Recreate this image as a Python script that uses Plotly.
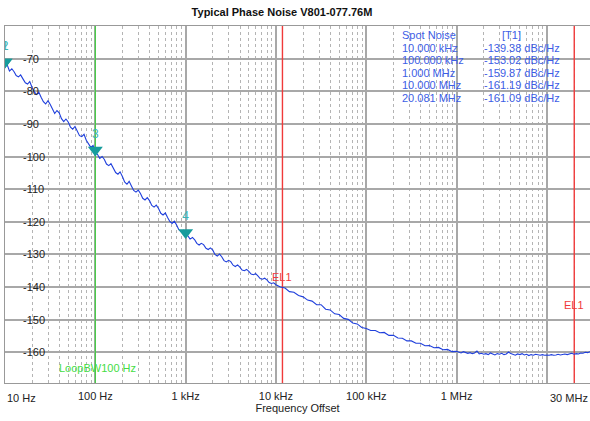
import plotly.graph_objects as go
import math

# ---------------- data ----------------
title_text = "Typical Phase Noise V801-077.76M"
x_title = "Frequency Offset"

freq_hz = [
    # 10 Hz - 100 Hz
    10, 10.6, 11.2, 11.9, 12.6, 13.3, 14.1, 14.9, 15.8, 16.8,
    17.8, 18.8, 20, 21.1, 22.4, 23.7, 25.1, 26.6, 28.2, 29.9,
    31.6, 33.5, 35.5, 37.6, 39.8, 42.2, 44.7, 47.3, 50.1, 53.1,
    56.2, 59.6, 63.1, 66.8, 70.8, 75.0, 79.4, 84.1, 89.1, 94.4,
    # 100 Hz - 1 kHz
    100, 106, 112, 119, 126, 133, 141, 149, 158, 168,
    178, 188, 200, 211, 224, 237, 251, 266, 282, 299,
    316, 335, 355, 376, 398, 422, 447, 473, 501, 531,
    562, 596, 631, 668, 708, 750, 794, 841, 891, 944,
    # 1 kHz - 10 kHz
    1000, 1060, 1120, 1190, 1260, 1330, 1410, 1490, 1580, 1680,
    1780, 1880, 2000, 2110, 2240, 2370, 2510, 2660, 2820, 2990,
    3160, 3350, 3550, 3760, 3980, 4220, 4470, 4730, 5010, 5310,
    5620, 5960, 6310, 6680, 7080, 7500, 7940, 8410, 8910, 9440,
    # 10 kHz - 100 kHz
    10000, 11200, 12600, 14100, 15800, 17800, 20000, 22400, 25100, 28200,
    31600, 35500, 39800, 44700, 50100, 56200, 63100, 70800, 79400, 89100,
    # 100 kHz - 1 MHz
    100000, 112000, 126000, 141000, 158000, 178000, 200000, 224000, 251000, 282000,
    316000, 355000, 398000, 447000, 501000, 562000, 631000, 708000, 794000, 891000,
    # 1 MHz - 10 MHz
    1.0e6, 1.06e6, 1.12e6, 1.19e6, 1.26e6, 1.33e6, 1.41e6, 1.49e6, 1.58e6, 1.68e6,
    1.78e6, 1.88e6, 2.0e6, 2.11e6, 2.24e6, 2.37e6, 2.51e6, 2.66e6, 2.82e6, 2.99e6,
    3.16e6, 3.35e6, 3.55e6, 3.76e6, 3.98e6, 4.22e6, 4.47e6, 4.73e6, 5.01e6, 5.31e6,
    5.62e6, 5.96e6, 6.31e6, 6.68e6, 7.08e6, 7.5e6, 7.94e6, 8.41e6, 8.91e6, 9.44e6,
    # 10 MHz - 30 MHz
    1.0e7, 1.06e7, 1.12e7, 1.19e7, 1.26e7, 1.33e7, 1.41e7, 1.49e7, 1.58e7, 1.68e7,
    1.78e7, 1.88e7, 2.0e7, 2.11e7, 2.24e7, 2.37e7, 2.51e7, 2.66e7, 2.82e7, 3.0e7,
]
noise_dbc = [
    -71.6, -72.0, -73.8, -73.1, -74.0, -75.2, -75.6, -75.0, -76.2, -77.4,
    -77.8, -77.0, -78.9, -80.2, -81.0, -80.3, -81.8, -83.2, -83.9, -82.9,
    -84.0, -85.6, -86.8, -85.9, -86.6, -88.4, -89.3, -88.5, -89.4, -91.0,
    -91.6, -90.8, -92.2, -93.6, -93.9, -93.2, -95.0, -96.3, -97.2, -96.6,
    -98.7, -99.4, -100.6, -100.0, -100.9, -102.3, -102.8, -102.2, -103.4, -104.9,
    -105.4, -104.7, -106.2, -107.8, -108.5, -107.6, -109.0, -110.4, -110.9, -110.3,
    -111.3, -112.8, -113.3, -112.6, -113.5, -115.0, -115.5, -114.9, -115.9, -117.4,
    -117.9, -117.3, -118.7, -119.9, -120.5, -119.8, -121.0, -122.4, -123.0, -122.6,
    -124.0, -124.3, -125.3, -124.8, -125.5, -126.6, -127.1, -126.6, -127.0, -128.1,
    -128.5, -128.0, -128.7, -130.0, -130.5, -129.9, -130.7, -131.9, -132.3, -131.8,
    -132.2, -133.3, -133.7, -133.2, -133.9, -134.8, -135.0, -134.6, -135.2, -136.0,
    -136.2, -135.9, -136.6, -137.4, -137.6, -137.3, -137.8, -138.6, -138.9, -138.7,
    -139.3, -140.0, -140.3, -141.4, -141.6, -142.6, -143.0, -144.0, -144.3, -145.4,
    -145.4, -146.8, -147.0, -148.2, -148.4, -149.6, -149.9, -151.0, -151.3, -152.4,
    -152.7, -153.3, -153.3, -154.0, -153.9, -154.8, -154.8, -155.6, -155.7, -156.5,
    -156.5, -157.2, -157.2, -158.0, -157.9, -158.6, -158.5, -159.2, -159.1, -159.8,
    -159.7, -160.0, -160.2, -159.8, -160.1, -160.3, -160.1, -160.4, -160.2, -159.6,
    -160.5, -160.3, -160.6, -160.4, -160.7, -160.2, -160.5, -160.8, -160.4, -160.6,
    -160.3, -160.7, -160.5, -159.9, -160.4, -160.6, -160.9, -160.5, -160.7, -160.4,
    -160.8, -160.6, -161.0, -160.7, -160.9, -160.6, -160.8, -160.9, -160.7, -160.9,
    -160.8, -160.9, -160.7, -160.9, -160.8, -160.6, -160.8, -160.7, -160.5, -160.7,
    -160.6, -160.3, -160.6, -160.4, -160.5, -160.2, -160.3, -160.0, -160.1, -159.8,
]

marker_labels = ["1", "2", "3", "4"]
marker_freq = [10, 10, 100, 1000]
marker_dbc = [-71.0, -71.0, -98.0, -123.3]

loop_bw_hz = 100
loop_bw_text = "LoopBW100 Hz"
el1_hz = [11800, 20.081e6]
el1_label_dbc = [-136.8, -145.5]

spot_header = ["Spot Noise", "[T1]"]
spot_freq_text = ["10.000 kHz", "100.000 kHz", "1.000 MHz", "10.000 MHz", "20.081 MHz"]
spot_value_text = ["-139.38 dBc/Hz", "-153.02 dBc/Hz", "-159.87 dBc/Hz",
                   "-161.19 dBc/Hz", "-161.09 dBc/Hz"]

x_major = [10, 100, 1e3, 1e4, 1e5, 1e6, 1e7]
x_major_text = ["", "100 Hz", "1 kHz", "10 kHz", "100 kHz", "1 MHz", ""]
x_end_labels = [(10, "10 Hz", "left"), (3e7, "30 MHz", "right")]
y_ticks = [-70, -80, -90, -100, -110, -120, -130, -140, -150, -160]

# ---------------- styling ----------------
FONT = "Liberation Sans, Arial, sans-serif"
BLUE = "#1f3fdc"
TEAL = "#179c9c"
TEAL_TXT = "#3bb5b5"
RED = "#f03a3a"
GREEN = "#33d633"
TXT_BLUE = "#3d5ee6"
GRID = "#a8a8a8"

x_min_hz, x_max_hz = 10, 3e7
x_range = [math.log10(x_min_hz), math.log10(x_max_hz)]
y_range = [-169.4, -60]

minor_vals = [m * 10 ** e for e in range(1, 8) for m in range(2, 10) if m * 10 ** e < x_max_hz]

fig = go.Figure()

fig.add_trace(go.Scatter(x=[loop_bw_hz, loop_bw_hz], y=y_range, mode="lines",
                         line=dict(color=GREEN, width=1), hoverinfo="skip", showlegend=False))
for f in el1_hz:
    fig.add_trace(go.Scatter(x=[f, f], y=y_range, mode="lines",
                             line=dict(color=RED, width=1.4), hoverinfo="skip", showlegend=False))

fig.add_trace(go.Scatter(x=freq_hz, y=noise_dbc, mode="lines",
                         line=dict(color=BLUE, width=1.1), showlegend=False))

fig.add_trace(go.Scatter(x=marker_freq, y=marker_dbc, mode="markers+text",
                         marker=dict(symbol="triangle-down", size=13, color=TEAL),
                         text=marker_labels, textposition="top center",
                         textfont=dict(family=FONT, size=12, color=TEAL_TXT),
                         showlegend=False))

annotations = []
# y-axis value labels drawn inside the plot, left-aligned
for v in y_ticks:
    annotations.append(dict(x=(21 - 5) / 585, xref="paper", y=v, text=str(v), showarrow=False,
                            xanchor="left", yanchor="middle",
                            font=dict(family=FONT, size=11, color="#222222")))
for f, v in zip(el1_hz, el1_label_dbc):
    annotations.append(dict(x=math.log10(f), y=v, text="EL1", showarrow=False,
                            xanchor="center", yanchor="middle",
                            font=dict(family=FONT, size=11, color=RED)))
annotations.append(dict(x=(57 - 5) / 585, xref="paper", y=-164.7, text=loop_bw_text, showarrow=False,
                        xanchor="left", yanchor="middle",
                        font=dict(family=FONT, size=11, color="#44dd44")))
for f, t, anc in x_end_labels:
    annotations.append(dict(x=math.log10(f), y=0, yref="paper", text=t, showarrow=False,
                            xanchor=anc, yanchor="top", yshift=-7,
                            font=dict(family=FONT, size=11, color="#222222")))
row_px = [35, 48, 60.5, 73, 85.5, 98]
for i, (a, b) in enumerate([tuple(spot_header)] + list(zip(spot_freq_text, spot_value_text))):
    yp = 1 - (row_px[i] - 26) / 357
    annotations.append(dict(x=(400 - 5) / 585, y=yp, xref="paper", yref="paper", text=a,
                            showarrow=False, xanchor="left", yanchor="middle",
                            font=dict(family=FONT, size=11, color=TXT_BLUE)))
    if i == 0:
        annotations.append(dict(x=(511.5 - 5) / 585, y=yp, xref="paper", yref="paper", text=b,
                                showarrow=False, xanchor="center", yanchor="middle",
                                font=dict(family=FONT, size=11, color=TXT_BLUE)))
    else:
        annotations.append(dict(x=(482 - 5) / 585, y=yp, xref="paper", yref="paper", text=b,
                                showarrow=False, xanchor="left", yanchor="middle",
                                font=dict(family=FONT, size=11, color=TXT_BLUE)))

fig.update_layout(
    width=590, height=421,
    margin=dict(l=5, r=0, t=26, b=38),
    paper_bgcolor="white", plot_bgcolor="white",
    title=dict(text="<b>" + title_text + "</b>", x=282 / 590, xanchor="center",
               y=1 - 12 / 421, yanchor="middle",
               font=dict(family=FONT, size=11, color="#111111")),
    font=dict(family=FONT, size=11, color="#222222"),
    annotations=annotations,
    showlegend=False,
)

fig.update_xaxes(
    type="log", range=x_range,
    tickvals=x_major, ticktext=x_major_text, ticks="",
    showgrid=True, gridcolor=GRID, gridwidth=1.5,
    minor=dict(tickvals=minor_vals, showgrid=True, gridcolor="#b4b4b4", gridwidth=1,
               griddash="3px,3px", ticks=""),
    showline=True, linecolor="#999999", linewidth=1, mirror=True,
    tickfont=dict(family=FONT, size=11, color="#222222"),
    ticklabelstandoff=3,
    title=dict(text=x_title, font=dict(family=FONT, size=11, color="#222222"), standoff=2),
    zeroline=False,
)

fig.update_yaxes(
    range=y_range, tickvals=y_ticks, ticks="", showticklabels=False,
    showgrid=True, gridcolor=GRID, gridwidth=1.5,
    showline=True, linecolor="#999999", linewidth=1, mirror=True,
    zeroline=False,
)

fig.write_html(
    "out.html",
    config={"displayModeBar": False},
    post_script="document.body.style.margin='0';document.body.style.overflow='hidden';",
)
